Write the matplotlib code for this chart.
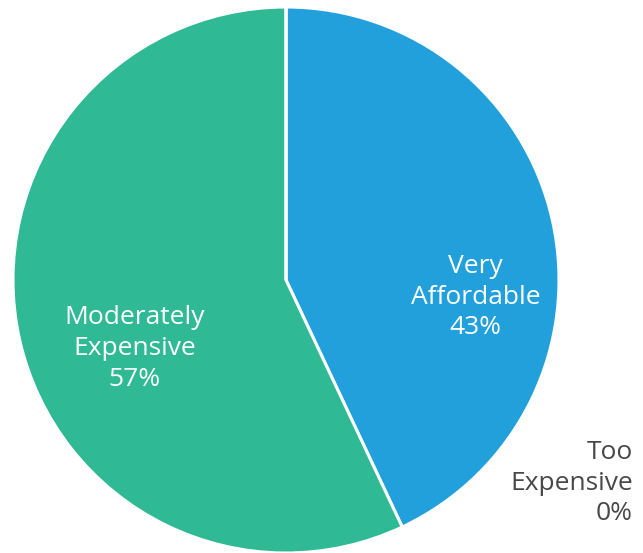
import matplotlib
matplotlib.use("Agg")
from matplotlib import pyplot as plt

plt.rcParams['font.family'] = ['Open Sans', 'DejaVu Sans']

labels = ["Very\nAffordable", "Moderately\nExpensive", "Too\nExpensive"]
shares = [43, 57, 0]
colors = ["#22a0dc", "#2fb995", "#ffffff"]

W, H = 643, 553
fig = plt.figure(figsize=(W / 100, H / 100), dpi=100)

# pie sits in a square box: centre (286, 280), radius 273 px
cx, cy, r = 286, 280, 273
ax = fig.add_axes([(cx - r) / W, 1 - (cy + r) / H, 2 * r / W, 2 * r / H])

ax.pie(shares, colors=colors, startangle=90, counterclock=False, radius=1,
       wedgeprops=dict(edgecolor="white", linewidth=2.2))
ax.set_xlim(-1, 1)
ax.set_ylim(-1, 1)
ax.set_aspect("equal")
ax.axis("off")

# label anchors in pixels from the top-left corner
anchors = [(475.5, 297), (134.5, 348.5)]
for (px, py), lab, val in zip(anchors, labels[:2], shares[:2]):
    fig.text(px / W, 1 - py / H, f"{lab}\n{val}%", ha="center", va="center",
             color="white", fontsize=19, linespacing=1.3)

fig.text(633 / W, 1 - 483 / H, f"{labels[2]}\n{shares[2]}%", ha="right", va="center",
         color="#484848", fontsize=19, linespacing=1.3)

fig.savefig("out.png", dpi=100)
